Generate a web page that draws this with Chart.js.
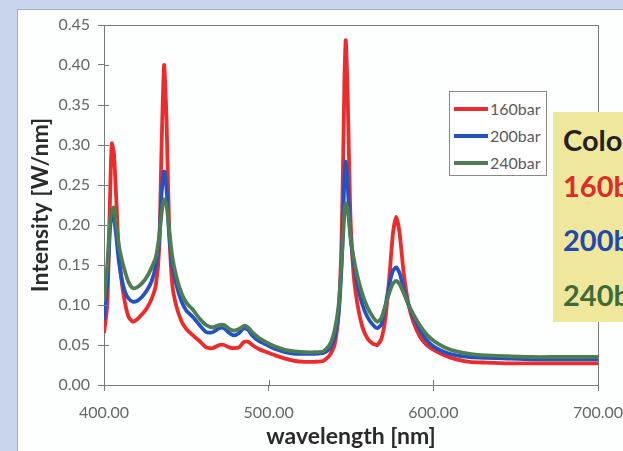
<!DOCTYPE html>
<html>
<head>
<meta charset="utf-8">
<script src="https://cdn.jsdelivr.net/npm/chart.js@4/dist/chart.umd.min.js"></script>
<style>
  html, body { margin: 0; padding: 0; }
  body {
    width: 623px; height: 451px; overflow: hidden; position: relative;
    background: #c8d5ec;
    font-family: "Lato", "Open Sans", sans-serif;
  }
  #panel {
    position: absolute; left: 17px; top: 9px; right: -2px; bottom: -2px;
    background: #fdfefe; border-left: 1px solid #9fb0cf; border-top: 1px solid #9fb0cf;
  }
  #chart { position: absolute; left: 0; top: 0; }
  #legend {
    position: absolute; left: 449px; top: 91px; width: 98px; height: 85px;
    border: 1px solid #8a8a8a; background: #fff; box-sizing: border-box;
    padding-top: 3px;
  }
  .row { display: flex; align-items: center; height: 27px; }
  .swatch { width: 34px; height: 4px; margin-left: 4px; margin-right: 2px; }
  .lab { font-size: 16px; font-weight: 400; color: #5a5a5a; }
  #note {
    position: absolute; left: 553px; top: 112px; width: 120px; height: 210px;
    background: #efe79c; font-weight: bold; white-space: nowrap;
  }
  #note div { position: absolute; left: 10px; font-size: 29px; }
</style>
</head>
<body>
<div id="panel"></div>
<canvas id="chart" width="623" height="451"></canvas>
<div id="legend"></div>
<div id="note">
  <div style="top:10px;color:#222;">Color</div>
  <div style="top:56px;color:#e02a2a;">160bar</div>
  <div style="top:110px;color:#2248b0;">200bar</div>
  <div style="top:165px;color:#3f6b3a;">240bar</div>
</div>
<script>
// Emission spectra of the lamp at three fill pressures
const wavelength = [400, 402, 403.5, 404.7, 406, 407.5, 409, 411, 413, 415, 417.5, 420, 423, 426, 429, 431.5, 433.5, 435, 436.5, 438, 439.5, 441.5, 444, 447, 450, 454, 458, 462, 466, 470, 473, 476, 479, 482, 485, 487.5, 490, 494, 499, 504, 510, 516, 522, 528, 533, 537, 540, 542.5, 544.5, 546, 546.8, 548, 549.5, 551.5, 554, 557, 560, 563, 566, 568.5, 571, 573.5, 575.5, 577.5, 579.5, 582, 585, 588, 592, 596, 601, 607, 614, 622, 632, 645, 660, 675, 690, 700];

const bar160 = [0.065, 0.10, 0.22, 0.302, 0.29, 0.23, 0.165, 0.125, 0.10, 0.085, 0.079, 0.082, 0.088, 0.096, 0.108, 0.125, 0.17, 0.30, 0.40, 0.33, 0.20, 0.125, 0.098, 0.08, 0.07, 0.062, 0.055, 0.047, 0.046, 0.05, 0.05, 0.047, 0.046, 0.047, 0.054, 0.054, 0.05, 0.045, 0.041, 0.037, 0.033, 0.030, 0.029, 0.029, 0.030, 0.037, 0.05, 0.09, 0.20, 0.38, 0.431, 0.36, 0.22, 0.14, 0.10, 0.072, 0.058, 0.052, 0.05, 0.058, 0.085, 0.14, 0.19, 0.21, 0.19, 0.14, 0.10, 0.078, 0.06, 0.05, 0.043, 0.037, 0.032, 0.029, 0.028, 0.027, 0.027, 0.027, 0.027, 0.027];

const bar200 = [0.081, 0.13, 0.19, 0.215, 0.21, 0.185, 0.155, 0.13, 0.115, 0.108, 0.104, 0.105, 0.11, 0.118, 0.13, 0.15, 0.18, 0.24, 0.267, 0.245, 0.19, 0.15, 0.125, 0.105, 0.093, 0.085, 0.075, 0.066, 0.066, 0.071, 0.071, 0.065, 0.062, 0.065, 0.071, 0.069, 0.062, 0.055, 0.050, 0.045, 0.041, 0.039, 0.039, 0.039, 0.040, 0.045, 0.06, 0.09, 0.16, 0.26, 0.279, 0.25, 0.19, 0.155, 0.125, 0.10, 0.085, 0.076, 0.071, 0.076, 0.10, 0.128, 0.143, 0.147, 0.14, 0.12, 0.10, 0.085, 0.068, 0.056, 0.047, 0.041, 0.037, 0.035, 0.034, 0.033, 0.032, 0.032, 0.032, 0.032];

const bar240 = [0.104, 0.15, 0.20, 0.218, 0.222, 0.20, 0.175, 0.155, 0.14, 0.128, 0.121, 0.122, 0.127, 0.135, 0.147, 0.16, 0.185, 0.215, 0.232, 0.225, 0.195, 0.16, 0.135, 0.115, 0.103, 0.094, 0.083, 0.075, 0.072, 0.075, 0.075, 0.07, 0.068, 0.07, 0.074, 0.072, 0.066, 0.059, 0.053, 0.048, 0.044, 0.042, 0.041, 0.041, 0.042, 0.05, 0.068, 0.10, 0.16, 0.215, 0.227, 0.22, 0.19, 0.16, 0.135, 0.113, 0.097, 0.086, 0.079, 0.084, 0.10, 0.117, 0.127, 0.13, 0.126, 0.115, 0.10, 0.088, 0.074, 0.063, 0.054, 0.047, 0.042, 0.039, 0.037, 0.036, 0.035, 0.035, 0.035, 0.035];

const seriesNames = ['160bar', '200bar', '240bar'];
const seriesColors = ['#ee2b2b', '#2153c2', '#4d7d50'];
const xTicks = [400, 500, 600, 700];
const yTicks = [0, 0.05, 0.10, 0.15, 0.20, 0.25, 0.30, 0.35, 0.40, 0.45];

const toPoints = vals => wavelength.map((w, i) => ({ x: w, y: vals[i] }));
const values = [bar160, bar200, bar240];

const datasets = values.map((v, i) => ({
  label: seriesNames[i],
  data: toPoints(v),
  borderColor: seriesColors[i],
  backgroundColor: seriesColors[i],
  borderWidth: 3.8,
  pointRadius: 0,
  tension: 0.2,
  showLine: true,
  order: values.length - i   // later pressures are drawn on top
}));

// Inward tick marks and the top/right frame of the plot box
const frame = {
  id: 'frame',
  afterDatasetsDraw(chart) {
    const { ctx, chartArea: a, scales } = chart;
    ctx.save();
    ctx.strokeStyle = '#7a7a7a';
    ctx.lineWidth = 1;
    ctx.beginPath();
    ctx.moveTo(a.left, a.top + 0.5); ctx.lineTo(a.right + 0.5, a.top + 0.5);
    ctx.lineTo(a.right + 0.5, a.bottom + 5);
    scales.x.ticks.forEach((t, i) => {
      const px = Math.round(scales.x.getPixelForTick(i)) + 0.5;
      ctx.moveTo(px, a.bottom); ctx.lineTo(px, a.bottom - 5);
    });
    scales.y.ticks.forEach((t, i) => {
      const py = Math.round(scales.y.getPixelForTick(i)) + 0.5;
      ctx.moveTo(a.left, py); ctx.lineTo(a.left + 5, py);
    });
    ctx.stroke();
    ctx.restore();
  }
};

const tickFont = { family: 'Lato', size: 16 };
const titleFont = { family: 'Lato', size: 23, weight: 'bold' };

new Chart(document.getElementById('chart'), {
  type: 'scatter',
  data: { datasets },
  plugins: [frame],
  options: {
    responsive: false,
    animation: false,
    devicePixelRatio: 1,
    layout: { padding: { left: 0, top: 25, right: 25, bottom: 0 } },
    plugins: { legend: { display: false }, tooltip: { enabled: false } },
    scales: {
      x: {
        type: 'linear', min: 400, max: 700,
        afterBuildTicks: s => { s.ticks = xTicks.map(v => ({ value: v })); },
        afterFit: s => { s.height = 66; s.paddingLeft = 0; s.paddingRight = 0; },
        ticks: { font: tickFont, color: '#666666', padding: 12, maxRotation: 0,
                 callback: v => v.toFixed(2) },
        grid: { drawOnChartArea: false, tickLength: 6, color: '#7a7a7a' },
        border: { color: '#7a7a7a' },
        title: { display: true, text: 'wavelength [nm]', font: titleFont, color: '#2a2a2a',
                 padding: { top: 0, bottom: 1 } }
      },
      y: {
        type: 'linear', min: 0, max: 0.45,
        afterBuildTicks: s => { s.ticks = yTicks.map(v => ({ value: v })); },
        afterFit: s => { s.width = 104; s.paddingTop = 0; s.paddingBottom = 0; },
        ticks: { font: tickFont, color: '#666666', padding: 8,
                 callback: v => v.toFixed(2) },
        grid: { drawOnChartArea: false, tickLength: 6, color: '#7a7a7a' },
        border: { color: '#7a7a7a' },
        title: { display: true, text: 'Intensity [W/nm]', font: titleFont, color: '#2a2a2a',
                 padding: { top: 27, bottom: 0 } }
      }
    }
  }
});

// Legend box listing the three pressures
const legend = document.getElementById('legend');
seriesNames.forEach((name, i) => {
  const row = document.createElement('div');
  row.className = 'row';
  row.innerHTML = '<div class="swatch" style="background:' + seriesColors[i] + '"></div>' +
                  '<span class="lab">' + name + '</span>';
  legend.appendChild(row);
});
</script>
</body>
</html>
